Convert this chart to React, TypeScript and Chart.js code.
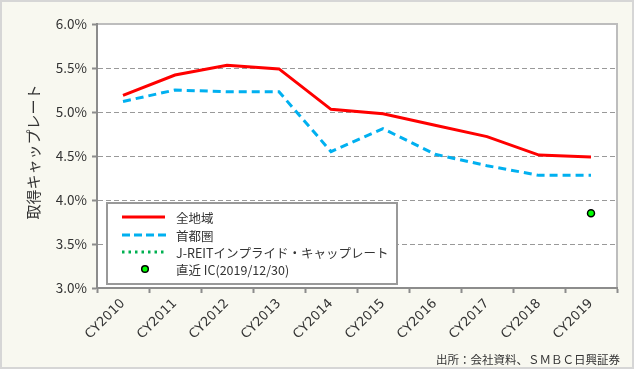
import React, { useEffect, useRef } from "react";
import { Chart, registerables } from "chart.js";

Chart.register(...registerables);

const categories = ["CY2010", "CY2011", "CY2012", "CY2013", "CY2014", "CY2015", "CY2016", "CY2017", "CY2018", "CY2019"];
const allRegion = [5.19, 5.42, 5.53, 5.49, 5.03, 4.98, 4.85, 4.72, 4.51, 4.49];
const metro = [5.12, 5.25, 5.23, 5.23, 4.55, 4.81, 4.52, 4.39, 4.28, 4.28];
const jreitImplied: (number | null)[] = [null, null, null, null, null, null, null, null, null, null];
const latestIC: (number | null)[] = [null, null, null, null, null, null, null, null, null, 3.85];
const yMin = 3.0;
const yMax = 6.0;
const yStep = 0.5;
const seriesNames = ["全地域", "首都圏", "J-REITインプライド・キャップレート", "直近 IC(2019/12/30)"];
const yTitle = "取得キャップレート";
const sourceText = "出所：会社資料、ＳＭＢＣ日興証券";

const FONT = "'Noto Sans CJK JP', 'Noto Sans', sans-serif";

const bgPlugin = {
  id: "bgPlugin",
  beforeDraw(chart: any) {
    const { ctx, width, height, chartArea } = chart;
    ctx.save();
    ctx.fillStyle = "#f8f8f0";
    ctx.fillRect(0, 0, width, height);
    ctx.strokeStyle = "#d6d6d6";
    ctx.lineWidth = 2;
    ctx.strokeRect(1, 1, width - 2, height - 2);
    ctx.fillStyle = "#ffffff";
    ctx.fillRect(chartArea.left, chartArea.top, chartArea.right - chartArea.left, chartArea.bottom - chartArea.top);
    ctx.strokeStyle = "#bdbdbd";
    ctx.lineWidth = 2;
    ctx.beginPath();
    ctx.moveTo(chartArea.left, chartArea.top);
    ctx.lineTo(chartArea.right, chartArea.top);
    ctx.lineTo(chartArea.right, chartArea.bottom);
    ctx.stroke();
    ctx.translate(33, (chartArea.top + chartArea.bottom) / 2 - 4);
    ctx.rotate(-Math.PI / 2);
    ctx.fillStyle = "#333333";
    ctx.font = `15px ${FONT}`;
    ctx.textAlign = "center";
    ctx.textBaseline = "middle";
    ctx.fillText(yTitle, 0, 0);
    ctx.restore();
    ctx.save();
    ctx.fillStyle = "#333333";
    ctx.font = `11.5px ${FONT}`;
    ctx.textAlign = "right";
    ctx.textBaseline = "middle";
    ctx.fillText(sourceText, 620, 360);
    ctx.restore();
  },
};

const legendPlugin = {
  id: "customLegend",
  afterDraw(chart: any) {
    const { ctx } = chart;
    const bx = 107, by = 203, bw = 290, bh = 81;
    ctx.save();
    ctx.fillStyle = "#ffffff";
    ctx.fillRect(bx, by, bw, bh);
    ctx.strokeStyle = "#999999";
    ctx.lineWidth = 2;
    ctx.strokeRect(bx, by, bw, bh);
    const rows = [217, 235, 252, 269];
    const lx1 = 122, lx2 = 165, tx = 176;
    ctx.lineWidth = 3;
    ctx.strokeStyle = "#ff0000";
    ctx.setLineDash([]);
    ctx.beginPath(); ctx.moveTo(lx1, rows[0]); ctx.lineTo(lx2, rows[0]); ctx.stroke();
    ctx.strokeStyle = "#00b0f0";
    ctx.setLineDash([8, 4]);
    ctx.beginPath(); ctx.moveTo(lx1, rows[1]); ctx.lineTo(lx2 + 2, rows[1]); ctx.stroke();
    ctx.strokeStyle = "#00b050";
    ctx.setLineDash([2.5, 4]);
    ctx.beginPath(); ctx.moveTo(lx1, rows[2]); ctx.lineTo(lx2, rows[2]); ctx.stroke();
    ctx.setLineDash([]);
    ctx.fillStyle = "#00ff00";
    ctx.strokeStyle = "#000000";
    ctx.lineWidth = 1.5;
    ctx.beginPath(); ctx.arc(145, rows[3], 3.3, 0, Math.PI * 2); ctx.fill(); ctx.stroke();
    ctx.fillStyle = "#333333";
    ctx.font = `12.5px ${FONT}`;
    ctx.textAlign = "left";
    ctx.textBaseline = "middle";
    seriesNames.forEach((n, i) => ctx.fillText(n, tx, rows[i] + 1));
    ctx.restore();
  },
};

export default function App() {
  const ref = useRef<HTMLCanvasElement>(null);
  useEffect(() => {
    if (!ref.current) return;
    const chart = new Chart(ref.current, {
      type: "line",
      data: {
        labels: categories,
        datasets: [
          { label: seriesNames[0], data: allRegion, borderColor: "#ff0000", borderWidth: 3, pointRadius: 0, tension: 0, fill: false },
          { label: seriesNames[1], data: metro, borderColor: "#00b0f0", borderWidth: 3, borderDash: [8, 5], pointRadius: 0, tension: 0, fill: false },
          { label: seriesNames[2], data: jreitImplied, borderColor: "#00b050", borderWidth: 3, borderDash: [2.5, 4], pointRadius: 0, fill: false },
          { label: seriesNames[3], data: latestIC, showLine: false, pointRadius: 3.5, pointBackgroundColor: "#00ff00", pointBorderColor: "#000000", pointBorderWidth: 1.5, borderColor: "#000000" },
        ],
      },
      options: {
        animation: false,
        responsive: false,
        maintainAspectRatio: false,
        layout: { padding: { top: 24, right: 17, left: 0, bottom: 0 } },
        plugins: { legend: { display: false }, tooltip: { enabled: false }, title: { display: false } },
        scales: {
          x: {
            type: "category",
            offset: true,
            afterFit: (s: any) => { s.height = 81; },
            grid: { display: true, offset: true, drawOnChartArea: false, drawTicks: true, tickLength: 5, tickColor: "#8c8c8c", tickWidth: 2, color: "#8c8c8c" },
            border: { display: true, color: "#8c8c8c", width: 2 },
            ticks: { color: "#333333", font: { family: "'DejaVu Sans', sans-serif", size: 13 }, minRotation: 45, maxRotation: 45, padding: 3, autoSkip: false },
          },
          y: {
            min: yMin,
            max: yMax,
            afterFit: (s: any) => { s.width = 97; },
            grid: {
              drawOnChartArea: true,
              drawTicks: true,
              tickLength: 5,
              tickColor: "#8c8c8c",
              tickWidth: 2,
              lineWidth: 1,
              color: (c: any) => (c.tick && (Math.abs(c.tick.value - yMin) < 1e-6 || Math.abs(c.tick.value - yMax) < 1e-6) ? "rgba(0,0,0,0)" : "#999999"),
            },
            border: { display: true, color: "#8c8c8c", width: 2, dash: [5, 3] },
            ticks: {
              stepSize: yStep,
              color: "#333333",
              font: { family: FONT, size: 13.5 },
              padding: 5,
              callback: (v: any) => Number(v).toFixed(1) + "%",
            },
          },
        },
      },
      plugins: [bgPlugin, legendPlugin],
    } as any);
    return () => chart.destroy();
  }, []);
  return (
    <div style={{ position: "fixed", left: 0, top: 0, width: 634, height: 369 }}>
      <canvas ref={ref} width={634} height={369} style={{ display: "block", width: 634, height: 369 }} />
    </div>
  );
}
